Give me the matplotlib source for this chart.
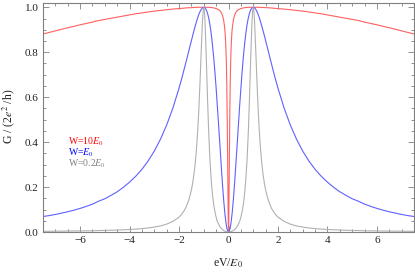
import matplotlib
matplotlib.use("Agg")
import matplotlib.pyplot as plt
from matplotlib.ticker import MultipleLocator, FormatStrFormatter, FuncFormatter

plt.rcParams['font.family'] = ['Liberation Serif', 'DejaVu Serif']
plt.rcParams['mathtext.fontset'] = 'stix'

# eV/E0 sample positions (x)
ev = [-7.5, -7.25, -7.0, -6.75, -6.5, -6.25, -6.0, -5.75, -5.5, -5.25, -5.0, -4.75, -4.5, -4.25, -4.0,
      -3.75, -3.5, -3.25, -3.0, -2.75, -2.5, -2.25, -2.0, -1.9, -1.8, -1.75, -1.7, -1.6, -1.5, -1.45, -1.4,
      -1.35, -1.3, -1.25, -1.2, -1.15, -1.1, -1.05, -1.025, -1.0, -0.975, -0.95, -0.9, -0.85, -0.8, -0.75,
      -0.7, -0.65, -0.6, -0.55, -0.5, -0.45, -0.4, -0.35, -0.3, -0.25, -0.2, -0.15, -0.125, -0.1, -0.085,
      -0.07, -0.05, -0.04, -0.03, -0.02, -0.01,
      0.0,
      0.01, 0.02, 0.03, 0.04, 0.05, 0.07, 0.085, 0.1, 0.125, 0.15, 0.2, 0.25, 0.3, 0.35, 0.4, 0.45, 0.5,
      0.55, 0.6, 0.65, 0.7, 0.75, 0.8, 0.85, 0.9, 0.95, 0.975, 1.0, 1.025, 1.05, 1.1, 1.15, 1.2, 1.25,
      1.3, 1.35, 1.4, 1.45, 1.5, 1.6, 1.7, 1.75, 1.8, 1.9, 2.0, 2.25, 2.5, 2.75, 3.0, 3.25, 3.5, 3.75,
      4.0, 4.25, 4.5, 4.75, 5.0, 5.25, 5.5, 5.75, 6.0, 6.25, 6.5, 6.75, 7.0, 7.25, 7.5]

# W = 10 E0 (red)
g_w10 = [0.881, 0.888, 0.895, 0.902, 0.909, 0.915, 0.922, 0.928, 0.934, 0.941, 0.946, 0.951, 0.956, 0.961, 0.966,
         0.971, 0.975, 0.979, 0.983, 0.986, 0.989, 0.992, 0.994, 0.995, 0.996, 0.997, 0.997, 0.998, 0.998, 0.999, 0.999,
         0.999, 1.0, 1.0, 1.0, 1.0, 1.0, 1.0, 1.0, 1.0, 1.0, 1.0, 1.0, 1.0, 1.0, 0.999,
         0.999, 0.998, 0.997, 0.996, 0.994, 0.992, 0.989, 0.985, 0.978, 0.966, 0.946, 0.904, 0.866, 0.803, 0.746,
         0.664, 0.501, 0.391, 0.265, 0.138, 0.038,
         0.0,
         0.038, 0.138, 0.265, 0.391, 0.501, 0.664, 0.746, 0.803, 0.866, 0.904, 0.946, 0.966, 0.978, 0.985, 0.989, 0.992, 0.994,
         0.996, 0.997, 0.998, 0.999, 0.999, 1.0, 1.0, 1.0, 1.0, 1.0, 1.0, 1.0, 1.0, 1.0, 1.0, 1.0, 1.0,
         1.0, 0.999, 0.999, 0.999, 0.998, 0.998, 0.997, 0.997, 0.996, 0.995, 0.994, 0.992, 0.989, 0.986, 0.983, 0.979, 0.975, 0.971,
         0.966, 0.961, 0.956, 0.951, 0.946, 0.941, 0.934, 0.928, 0.922, 0.915, 0.909, 0.902, 0.895, 0.888, 0.881]

# W = E0 (blue)
g_w1 = [0.069, 0.073, 0.078, 0.084, 0.090, 0.097, 0.105, 0.114, 0.124, 0.137, 0.148, 0.163, 0.179, 0.199, 0.222,
        0.248, 0.279, 0.316, 0.360, 0.413, 0.476, 0.551, 0.640, 0.679, 0.721, 0.742, 0.764, 0.808, 0.852, 0.874, 0.895,
        0.915, 0.934, 0.952, 0.968, 0.981, 0.991, 0.998, 0.999, 1.0, 0.999, 0.997, 0.989, 0.974, 0.952, 0.922,
        0.883, 0.835, 0.779, 0.713, 0.640, 0.560, 0.476, 0.389, 0.303, 0.222, 0.148, 0.086, 0.061, 0.039, 0.0285,
        0.019, 0.010, 0.0064, 0.0036, 0.0016, 0.0004,
        0.0,
        0.0004, 0.0016, 0.0036, 0.0064, 0.010, 0.019, 0.0285, 0.039, 0.061, 0.086, 0.148, 0.222, 0.303, 0.389, 0.476, 0.560, 0.640,
        0.713, 0.779, 0.835, 0.883, 0.922, 0.952, 0.974, 0.989, 0.997, 0.999, 1.0, 0.999, 0.998, 0.991, 0.981, 0.968, 0.952,
        0.934, 0.915, 0.895, 0.874, 0.852, 0.808, 0.764, 0.742, 0.721, 0.679, 0.640, 0.551, 0.476, 0.413, 0.360, 0.316, 0.279, 0.248,
        0.222, 0.199, 0.179, 0.163, 0.148, 0.137, 0.124, 0.114, 0.105, 0.097, 0.090, 0.084, 0.078, 0.073, 0.069]

# W = 0.2 E0 (gray)
g_w02 = [0.0029, 0.0032, 0.0034, 0.0037, 0.0040, 0.0043, 0.0047, 0.0051, 0.0056, 0.0063, 0.0069, 0.0077, 0.0087, 0.0098, 0.011,
         0.013, 0.015, 0.018, 0.022, 0.027, 0.035, 0.047, 0.066, 0.078, 0.094, 0.103, 0.115, 0.144, 0.187, 0.217, 0.254,
         0.301, 0.362, 0.441, 0.544, 0.671, 0.814, 0.944, 0.985, 1.0, 0.984, 0.938, 0.782, 0.600, 0.441, 0.320,
         0.232, 0.169, 0.123, 0.0905, 0.066, 0.0462, 0.035, 0.0248, 0.017, 0.0113, 0.0069, 0.0038, 0.0026, 0.0016, 0.0012,
         0.0008, 0.0004, 0.0003, 0.0001, 0.0001, 0.0,
         0.0,
         0.0, 0.0001, 0.0001, 0.0003, 0.0004, 0.0008, 0.0012, 0.0016, 0.0026, 0.0038, 0.0069, 0.0113, 0.017, 0.0248, 0.035, 0.0462, 0.066,
         0.0905, 0.123, 0.169, 0.232, 0.320, 0.441, 0.600, 0.782, 0.938, 0.984, 1.0, 0.985, 0.944, 0.814, 0.671, 0.544, 0.441,
         0.362, 0.301, 0.254, 0.217, 0.187, 0.144, 0.115, 0.103, 0.094, 0.078, 0.066, 0.047, 0.035, 0.027, 0.022, 0.018, 0.015, 0.013,
         0.011, 0.0098, 0.0087, 0.0077, 0.0069, 0.0063, 0.0056, 0.0051, 0.0047, 0.0043, 0.0040, 0.0037, 0.0034, 0.0032, 0.0029]

legend_labels = ['W=10$E_0$', 'W=$E_0$', 'W=0.2$E_0$']
legend_colors = ['#ff0000', '#0000ff', '#808080']

W, H = 415, 272
fig = plt.figure(figsize=(W / 100, H / 100), dpi=100)
left, right, top, bottom = 43, 414, 3, 232
ax = fig.add_axes([left / W, 1 - bottom / H, (right - left) / W, (bottom - top) / H])

ax.plot(ev, g_w10, color='#ff6060', lw=0.8)
ax.plot(ev, g_w1, color='#6060ff', lw=0.8)
ax.plot(ev, g_w02, color='#b0b0b0', lw=0.8)

ax.set_xlim(-7.5, 7.5)
ax.set_ylim(0, 1.019)
ax.xaxis.set_major_locator(MultipleLocator(2))
ax.xaxis.set_minor_locator(MultipleLocator(0.5))
ax.yaxis.set_major_locator(MultipleLocator(0.2))
ax.yaxis.set_minor_locator(MultipleLocator(0.05))
ax.yaxis.set_major_formatter(FormatStrFormatter('%.1f'))
ax.xaxis.set_major_formatter(FuncFormatter(lambda v, p: f'{int(round(v))}'.replace('-', '\u2212')))

for s in ax.spines.values():
    s.set_color('#808080')
    s.set_linewidth(0.8)
ax.tick_params(which='both', direction='in', top=True, right=True, color='#808080',
               labelsize=8, labelcolor='#222222', width=0.6)
ax.tick_params(which='major', length=4, pad=3)
ax.tick_params(which='minor', length=2.2)

ax.set_xlabel('eV/$E_0$', fontsize=8.5, color='#222222', labelpad=8)
ax.set_ylabel('G / (2$e^2$ /h)', fontsize=8.5, color='#222222')
ax.yaxis.set_label_coords(-26 / (right - left), 0.505)

for i, (lab, col) in enumerate(zip(legend_labels, legend_colors)):
    fig.text(68 / W, 1 - (142 + 11 * i) / H, lab, color=col, fontsize=7, va='center', ha='left')

fig.savefig('out.png', dpi=100)
